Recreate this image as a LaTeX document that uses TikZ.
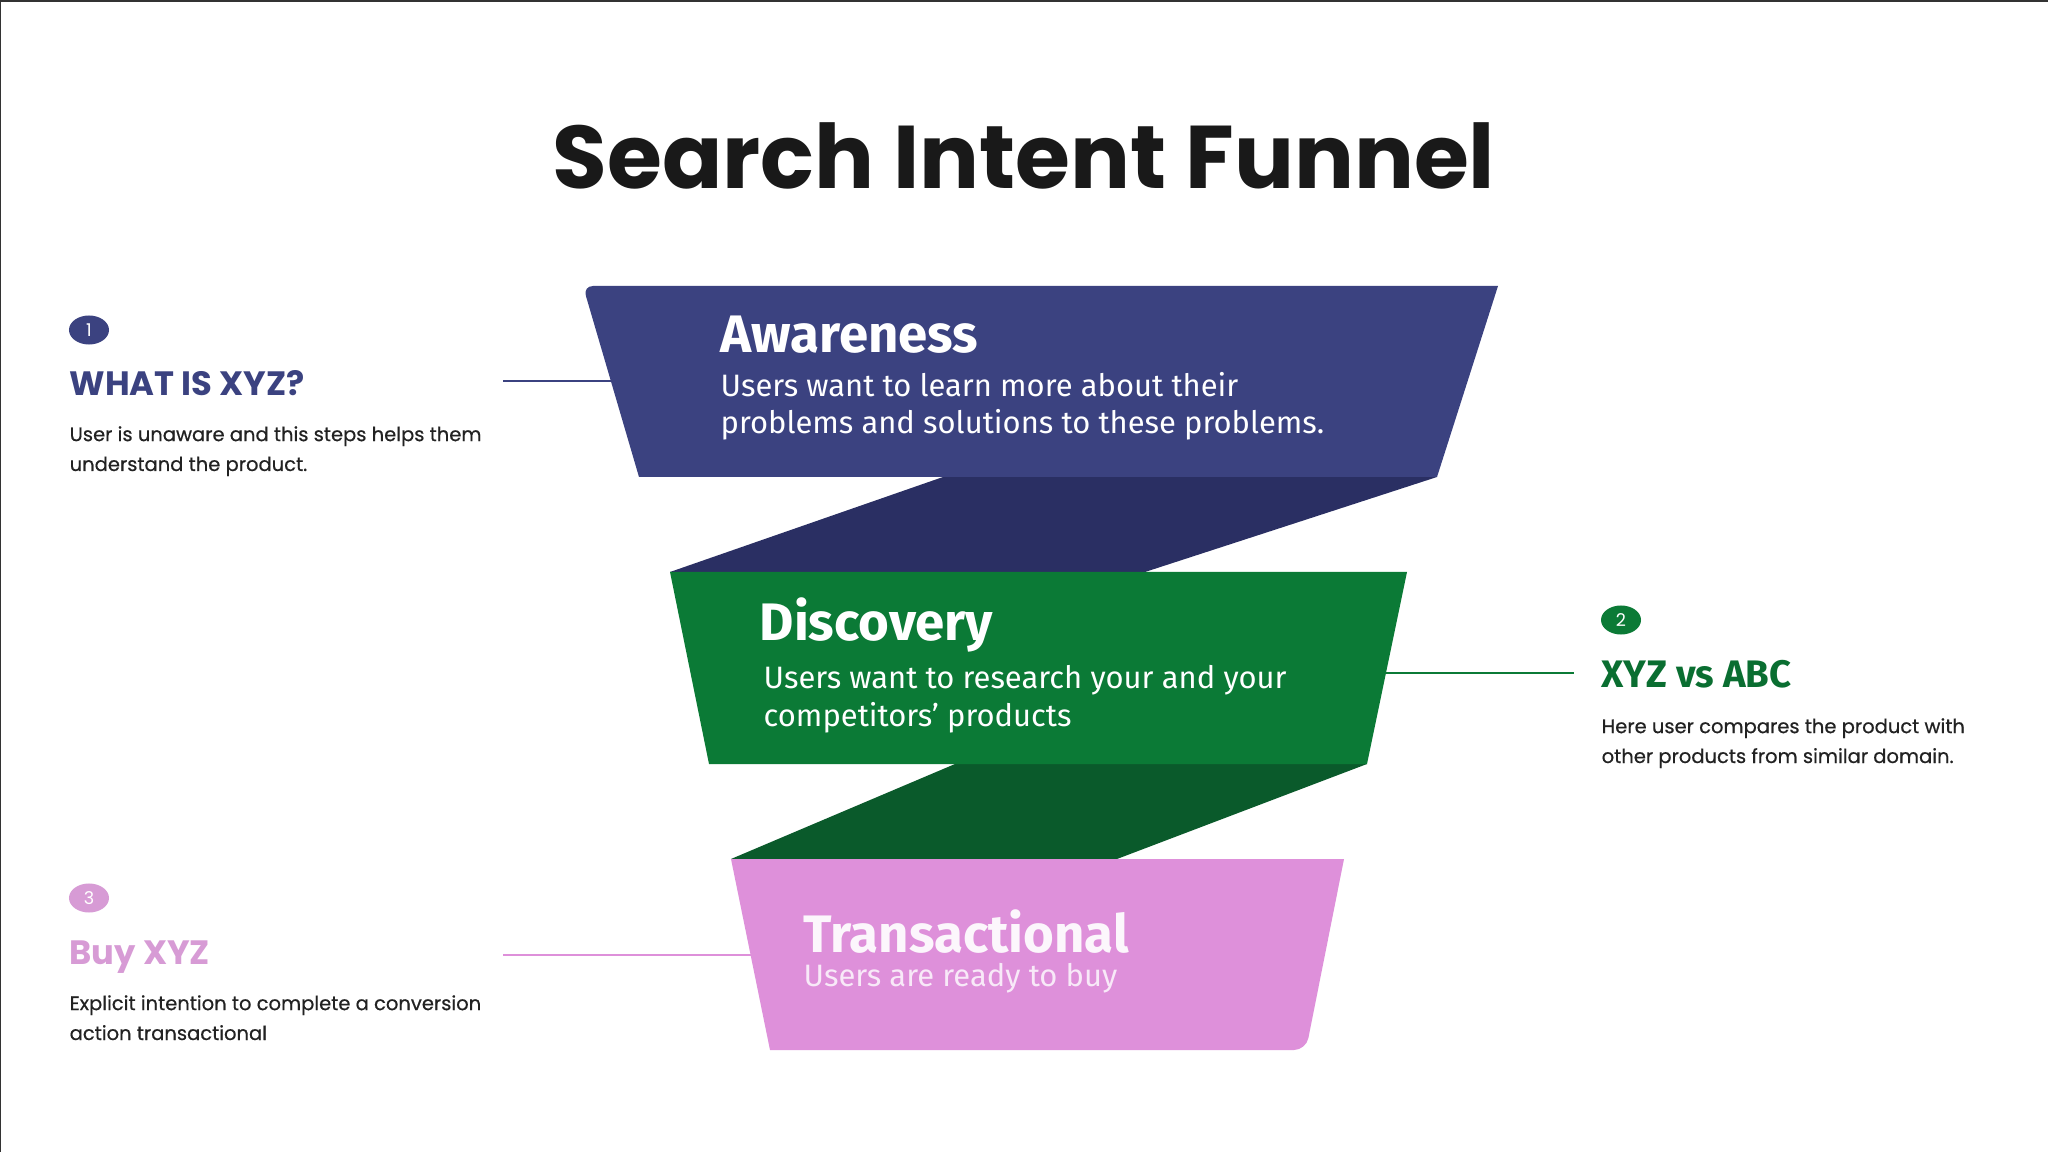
\documentclass[tikz,border=0pt]{standalone}
\usepackage{fontspec}
\setmainfont{Poppins}
\newfontfamily\bandfont{Fira Sans}
\newfontfamily\descfont{Poppins}[FakeBold=0.5]
\usetikzlibrary{shapes.geometric}
\usetikzlibrary{positioning}

\definecolor{navy}{HTML}{3B4280}
\definecolor{navydark}{HTML}{2A2F63}
\definecolor{leaf}{HTML}{0B7A36}
\definecolor{leafdark}{HTML}{0A5A2B}
\definecolor{orchid}{HTML}{DE90DA}
\definecolor{orchidtext}{HTML}{D79BD5}
\definecolor{desctext}{HTML}{222222}

\begin{document}
\begin{tikzpicture}[
  x=0.01cm, y=-0.01cm,
  bandtitle/.style={anchor=base west, inner sep=0pt, text=white, font=\bandfont\bfseries\fontsize{15}{18}\selectfont},
  bandtext/.style={anchor=base west, inner sep=0pt, text=white, align=left, font=\bandfont\fontsize{8.8}{10.8}\selectfont},
  badge/.style={ellipse, inner sep=0pt, minimum width=0.4cm, minimum height=0.29cm, text=white, font=\fontsize{5}{6}\selectfont},
  stephead/.style={anchor=base west, inner sep=0pt, font=\fontsize{9.6}{11}\selectfont\bfseries},
  stepdesc/.style={anchor=base west, inner sep=0pt, align=left, text=desctext, font=\descfont\fontsize{5.55}{8.5}\selectfont},
  link/.style={line width=0.7pt},
]
\useasboundingbox (0,0) rectangle (2048,1152);
\fill[white] (0,0) rectangle (2048,1152);
\draw[black!80, line width=0.6pt] (0,1152) -- (0,1) -- (2048,1);

% title
\node[inner sep=0pt, anchor=base, text=black!90, font=\bfseries\fontsize{25.3}{30}\selectfont] (title) at (1024,189) {Search Intent Funnel};

% connecting folds
\fill[navydark] (943,477) -- (1437,477) -- (1145,572) -- (670,572) -- cycle;
\fill[leafdark] (955,764) -- (1367,764) -- (1117,859) -- (731,859) -- cycle;

% bands
\fill[navy] (639,477) [rounded corners=0.1cm] -- (583,286) -- (1000,286) [sharp corners] -- (1498,286) -- (1437,477) -- cycle;
\fill[leaf] (670,572) -- (1407,572) -- (1367,764) -- (709,764) -- cycle;
\fill[orchid] (731,859) -- (1344,859) [rounded corners=0.12cm] -- (1306,1050) -- (1000,1050) [sharp corners] -- (770,1050) -- cycle;

\node[bandtitle] (aware) at (720,353) {Awareness};
\node[bandtext] (awareTxt) at (720,434) {Users want to learn more about their\\problems and solutions to these problems.};
\node[bandtitle] (disc) at (759,640) {Discovery};
\node[bandtext] (discTxt) at (763,726) {Users want to research your and your\\competitors’ products};
\node[bandtitle, text=white!92!orchid] (trans) at (803,952) {Transactional};
\node[bandtext, text=white!80!orchid] (transTxt) at (803,986) {Users are ready to buy};

% side notes
\node[badge, fill=navy] (b1) at (89,330) {1};
\node[stephead, text=navy] (h1) at (69,396) {WHAT IS XYZ?};
\node[stepdesc] (d1) at (69,471) {User is unaware and this steps helps them\\understand the product.};

\node[badge, fill=leaf] (b2) at (1621,620) {2};
\node[stephead, text=leaf!90!black, font=\bandfont\bfseries\fontsize{10.9}{12}\selectfont] (h2) at (1601,687) {XYZ vs ABC};
\node[stepdesc] (d2) at (1601,763) {Here user compares the product with\\other products from similar domain.};

\node[badge, fill=orchidtext] (b3) at (89,898) {3};
\node[stephead, text=orchidtext] (h3) at (69,964) {Buy XYZ};
\node[stepdesc] (d3) at (69,1040) {Explicit intention to complete a conversion\\action transactional};

% leader lines
\coordinate (l1a) at (503,381);
\coordinate (l1b) at (612,381);
\coordinate (l2a) at (1384,673);
\coordinate (l2b) at (1574,673);
\coordinate (l3a) at (503,955);
\coordinate (l3b) at (752,955);
\draw[link, navy] (l1a) -- (l1b);
\draw[link, leaf] (l2a) -- (l2b);
\draw[link, orchid] (l3a) -- (l3b);
\end{tikzpicture}
\end{document}
